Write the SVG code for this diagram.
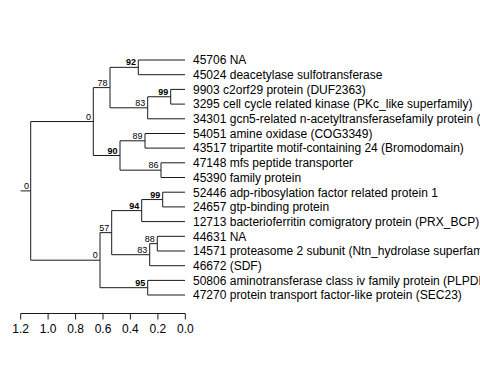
<svg xmlns="http://www.w3.org/2000/svg" width="480" height="384" viewBox="0 0 480 384">
<style>
.e{fill:none;stroke:#1a1a1a;stroke-width:1}
.lf{font-family:"Liberation Sans",Arial,sans-serif;font-size:12px;fill:#000}
.bs{font-family:"Liberation Sans",Arial,sans-serif;font-size:9px;fill:#000;text-anchor:end}
.b{font-weight:bold}
.ax{font-family:"Liberation Sans",Arial,sans-serif;font-size:12px;fill:#000;text-anchor:middle}
</style>
<rect width="480" height="384" fill="#fff"/>
<g id="connectors" class="e">
<path d="M20.7,190.9H30.7M30.7,121.55V260.2"/>
<path d="M30.7,121.55H93.3M93.3,87.6V155.5"/>
<path d="M93.3,87.6H110M110,67.35V107.8"/>
<path d="M110,67.35H138.3M138.3,60V74.7M138.3,60H185M138.3,74.7H185"/>
<path d="M110,107.8H147.7M147.7,96.75V118.8M147.7,118.8H185"/>
<path d="M147.7,96.75H170.7M170.7,89.4V104.1M170.7,89.4H185M170.7,104.1H185"/>
<path d="M93.3,155.5H120M120,140.8V170.15"/>
<path d="M120,140.8H145M145,133.5V148.1M145,133.5H185M145,148.1H185"/>
<path d="M120,170.15H161M161,162.8V177.5M161,162.8H185M161,177.5H185"/>
<path d="M30.7,260.2H100M100,232.65V287.7"/>
<path d="M100,232.65H111.7M111.7,210.6V254.7"/>
<path d="M111.7,210.6H141.7M141.7,199.55V221.6M141.7,221.6H185"/>
<path d="M141.7,199.55H162.7M162.7,192.2V206.9M162.7,192.2H185M162.7,206.9H185"/>
<path d="M111.7,254.7H149.7M149.7,243.65V265.7M149.7,265.7H185"/>
<path d="M149.7,243.65H157.3M157.3,236.3V251M157.3,236.3H185M157.3,251H185"/>
<path d="M100,287.7H147.7M147.7,280.4V295M147.7,280.4H185M147.7,295H185"/>
</g>
<g id="support">
<text class="bs" x="29" y="188.9">0</text>
<text class="bs" x="91" y="119.5">0</text>
<text class="bs" x="107.5" y="85.6">78</text>
<text class="bs b" x="136" y="65.3">92</text>
<text class="bs" x="145.2" y="105.8">83</text>
<text class="bs b" x="168.2" y="94.7">99</text>
<text class="bs b" x="117.5" y="153.5">90</text>
<text class="bs" x="142.5" y="138.8">89</text>
<text class="bs" x="158.5" y="168.1">86</text>
<text class="bs" x="97.7" y="258.2">0</text>
<text class="bs" x="109.2" y="230.6">57</text>
<text class="bs b" x="139.2" y="208.6">94</text>
<text class="bs b" x="160.2" y="197.5">99</text>
<text class="bs" x="147.2" y="252.7">83</text>
<text class="bs" x="154.8" y="241.6">88</text>
<text class="bs b" x="145.2" y="285.7">95</text>
</g>
<g id="leaves" class="lf">
<text id="n45706" x="193" y="64.3">45706 NA</text>
<text id="n45024" x="193" y="79">45024 deacetylase sulfotransferase</text>
<text id="n9903" x="193" y="93.7">9903 c2orf29 protein (DUF2363)</text>
<text id="n3295" x="193" y="108.4">3295 cell cycle related kinase (PKc_like superfamily)</text>
<text id="n34301" x="193" y="123.1">34301 gcn5-related n-acetyltransferasefamily protein (</text>
<text id="n54051" x="193" y="137.8">54051 amine oxidase (COG3349)</text>
<text id="n43517" x="193" y="152.4">43517 tripartite motif-containing 24 (Bromodomain)</text>
<text id="n47148" x="193" y="167.1">47148 mfs peptide transporter</text>
<text id="n45390" x="193" y="181.8">45390 family protein</text>
<text id="n52446" x="193" y="196.5">52446 adp-ribosylation factor related protein 1</text>
<text id="n24657" x="193" y="211.2">24657 gtp-binding protein</text>
<text id="n12713" x="193" y="225.9">12713 bacterioferritin comigratory protein (PRX_BCP)</text>
<text id="n44631" x="193" y="240.6">44631 NA</text>
<text id="n14571" x="193" y="255.3">14571 proteasome 2 subunit (Ntn_hydrolase superfam</text>
<text id="n46672" x="193" y="270">46672 (SDF)</text>
<text id="n50806" x="193" y="284.7">50806 aminotransferase class iv family protein (PLPDE</text>
<text id="n47270" x="193" y="299.3">47270 protein transport factor-like protein (SEC23)</text>
</g>
<g id="axis">
<path class="e" d="M20.7,313.5H185.3M20.7,313.5V319.5M48.1,313.5V319.5M75.6,313.5V319.5M103,313.5V319.5M130.4,313.5V319.5M157.9,313.5V319.5M185.3,313.5V319.5"/>
<text class="ax" x="20.7" y="333">1.2</text>
<text class="ax" x="48.1" y="333">1.0</text>
<text class="ax" x="75.6" y="333">0.8</text>
<text class="ax" x="103" y="333">0.6</text>
<text class="ax" x="130.4" y="333">0.4</text>
<text class="ax" x="157.9" y="333">0.2</text>
<text class="ax" x="185.3" y="333">0.0</text>
</g>
</svg>
